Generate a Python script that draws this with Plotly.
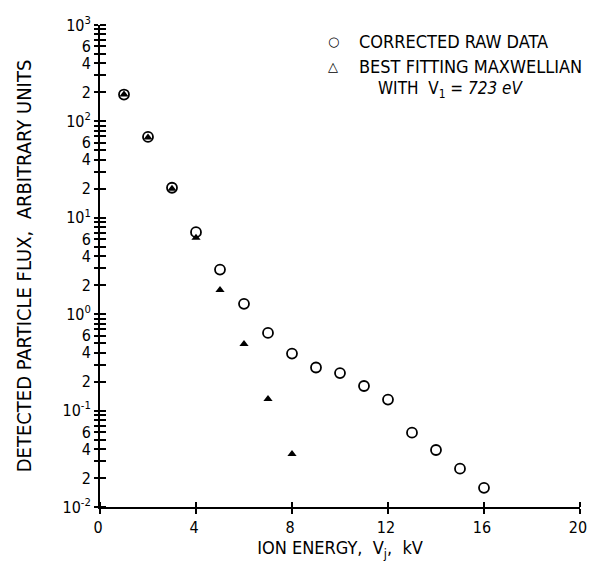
import plotly.graph_objects as go

# ---- data ----
raw_energy_kv = [1, 2, 3, 4, 5, 6, 7, 8, 9, 10, 11, 12, 13, 14, 15, 16]
raw_flux = [190, 69, 20.5, 7.1, 2.9, 1.28, 0.64, 0.39, 0.28, 0.245, 0.18,
            0.13, 0.059, 0.039, 0.025, 0.0158]

maxw_energy_kv = [1, 2, 3, 4, 5, 6, 7, 8]
maxw_flux = [190, 68, 20, 6.2, 1.78, 0.49, 0.132, 0.0355]

x_tickvals = [0, 4, 8, 12, 16, 20]
x_ticktext = ["0", "4", "8", "12", "16", "20"]

decades = [-2, -1, 0, 1, 2]
labeled_minors = {2: "2", 4: "4", 6: "6"}

y_tickvals = []
y_ticktext = []
for d in decades:
    for m in range(1, 10):
        y_tickvals.append(m * 10 ** d)
        if m == 1:
            y_ticktext.append("10<sup>%d</sup>" % d)
        else:
            y_ticktext.append(labeled_minors.get(m, " "))
y_tickvals.append(1000)
y_ticktext.append("10<sup>3</sup>")

FONT = "DejaVu Sans Condensed, Liberation Sans Narrow, Arial Narrow, sans-serif"

# page body has an 8px margin; keep the figure inside the window (no scrollbars)
OFF = 8
W, H = 585, 569 - 2 * OFF
# plot area in reference (window) pixels: x 100..580, y 25..507
L = 100 - OFF
T = 25 - OFF
R = W - (580 - OFF)
B = H - (507 - OFF)
PW, PH = W - L - R, H - T - B


def px_to_paper(px, py):
    """reference-window pixel -> paper coords"""
    return (px - OFF - L) / PW, 1 - (py - OFF - T) / PH


fig = go.Figure()
fig.add_trace(go.Scatter(
    x=raw_energy_kv, y=raw_flux, mode="markers", name="CORRECTED RAW DATA",
    marker=dict(symbol="circle-open", size=10, color="black",
                line=dict(width=1.8, color="black")),
    showlegend=False,
))
fig.add_trace(go.Scatter(
    x=maxw_energy_kv, y=maxw_flux, mode="markers",
    name="BEST FITTING MAXWELLIAN",
    marker=dict(symbol="triangle-up", size=8, color="black"),
    showlegend=False,
))

# key drawn as text (open symbols as in the reference key)
legend_items = [
    ("○", "CORRECTED RAW DATA", 42),
    ("△", "BEST FITTING MAXWELLIAN", 66),
]
for sym, txt, yy in legend_items:
    sx, sy = px_to_paper(333, yy)
    tx, _ = px_to_paper(357, yy)
    fig.add_annotation(xref="paper", yref="paper", x=sx, y=sy,
                       text=sym, showarrow=False, xanchor="center",
                       yanchor="middle", font=dict(size=13, color="black",
                                                   family="DejaVu Sans"))
    fig.add_annotation(xref="paper", yref="paper", x=tx, y=sy,
                       text=txt, showarrow=False, xanchor="left",
                       yanchor="middle", font=dict(size=18, color="black",
                                                   family=FONT))
wx, wy = px_to_paper(376, 90)
fig.add_annotation(xref="paper", yref="paper", x=wx, y=wy,
                   text="WITH  V<sub>1</sub> = <i>723 eV</i>", showarrow=False,
                   xanchor="left", yanchor="middle",
                   font=dict(size=17, color="black", family=FONT))

fig.update_xaxes(
    range=[0, 20], tickmode="array", tickvals=x_tickvals, ticktext=x_ticktext,
    ticks="outside", ticklen=5, tickwidth=1.5, tickcolor="black",
    minor=dict(ticks="inside", ticklen=5, tickwidth=1.5, tickcolor="black",
               tickmode="array", tickvals=x_tickvals),
    showline=True, linecolor="black", linewidth=1.8, mirror=False,
    showgrid=False, zeroline=False, automargin=False,
    ticklabeloverflow="allow", ticklabelshift=-2,
    tickfont=dict(size=16, family=FONT, color="black"),
    title=dict(text="ION ENERGY,  V<sub>j</sub>,  kV", standoff=2,
               font=dict(size=18, family=FONT, color="black")),
)
fig.update_yaxes(
    type="log", range=[-2, 3], tickmode="array", tickvals=y_tickvals,
    ticktext=y_ticktext,
    ticks="outside", ticklen=4, tickwidth=1.5, tickcolor="black",
    minor=dict(ticks="inside", ticklen=6, tickwidth=1.5, tickcolor="black",
               tickmode="array", tickvals=y_tickvals),
    showline=True, linecolor="black", linewidth=1.8, mirror=False,
    showgrid=False, zeroline=False, automargin=False,
    tickfont=dict(size=16, family=FONT, color="black"),
    title=dict(text="DETECTED PARTICLE FLUX,  ARBITRARY UNITS", standoff=26,
               font=dict(size=20, family=FONT, color="black")),
)
fig.update_layout(
    width=W, height=H,
    margin=dict(l=L, r=R, t=T, b=B),
    paper_bgcolor="white", plot_bgcolor="white",
    font=dict(family=FONT, color="black"),
    showlegend=False,
)
fig.write_html("out.html")
